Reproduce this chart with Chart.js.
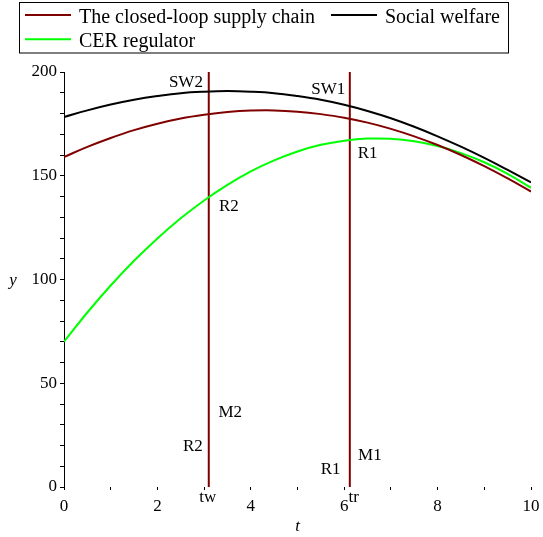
<!DOCTYPE html>
<html>
<head>
<meta charset="utf-8">
<script src="https://cdn.jsdelivr.net/npm/chart.js@4.4.1/dist/chart.umd.min.js"></script>
<style>
  html, body { margin: 0; padding: 0; background: #ffffff; }
  #wrap { width: 543px; height: 537px; position: relative; }
</style>
</head>
<body>
<div id="wrap"><canvas id="c" width="543" height="537"></canvas></div>
<script>
// Sample times t
const tValues = [0, 0.5, 1, 1.5, 2, 2.5, 3, 3.5, 4, 4.5, 5, 5.5, 6, 6.5, 7, 7.5, 8, 8.5, 9, 9.5, 10];

// The closed-loop supply chain
const supplyChain = [159.0, 163.9, 168.2, 172.0, 175.1, 177.6, 179.4, 180.7, 181.4, 181.5, 180.9,
                     179.7, 178.0, 175.6, 172.6, 169.0, 164.8, 160.0, 154.6, 148.7, 142.4];
// Social welfare
const socialWelfare = [178.3, 181.5, 184.3, 186.6, 188.4, 189.8, 190.5, 190.8, 190.5, 189.8, 188.4,
                       186.6, 184.2, 181.2, 177.7, 173.6, 169.0, 164.0, 158.6, 152.8, 146.8];
// CER regulator
const cerRegulator = [70.0, 84.1, 97.1, 109.0, 119.8, 129.5, 138.1, 145.6, 152.1, 157.4, 161.7,
                      164.9, 166.9, 167.9, 167.8, 166.6, 164.3, 160.9, 156.5, 150.9, 144.2];

// Switching times
const tw = 3.1;
const tr = 6.12;

// Axis tick labels
const xTickLabels = [0, 2, 4, 6, 8, 10];
const yTickLabels = [0, 50, 100, 150, 200];

// Legend entries
const legendNames = ["The closed-loop supply chain", "Social welfare", "CER regulator"];

// Point labels on the plot (t, y)
const pointLabels = [
  { text: "SW2", t: 2.61, y: 194.9 },
  { text: "SW1", t: 5.66, y: 191.6 },
  { text: "R1",  t: 6.50, y: 160.7 },
  { text: "R2",  t: 3.53, y: 135.1 },
  { text: "M2",  t: 3.56, y: 35.7 },
  { text: "R2",  t: 2.76, y: 19.4 },
  { text: "M1",  t: 6.55, y: 15.4 },
  { text: "R1",  t: 5.71, y: 8.3 }
];

const SERIF = "'Liberation Serif', 'Times New Roman', serif";
const MAROON = '#800000';
const GREEN = '#00ff00';

const toPoints = (ys) => tValues.map((t, i) => ({ x: t, y: ys[i] }));

const overlay = {
  id: 'overlay',
  afterDraw(chart) {
    const ctx = chart.ctx;
    const xs = chart.scales.x, ys = chart.scales.y;
    const area = chart.chartArea;
    ctx.save();

    // Legend box
    ctx.strokeStyle = '#000';
    ctx.lineWidth = 1;
    ctx.strokeRect(19.5, 2.5, 489, 50.5);
    ctx.font = '20px ' + SERIF;
    ctx.textBaseline = 'alphabetic';
    ctx.textAlign = 'left';
    const entries = [
      { color: MAROON, x: 25, y: 15, name: legendNames[0] },
      { color: '#000', x: 331, y: 15, name: legendNames[1] },
      { color: GREEN, x: 25, y: 39.3, name: legendNames[2] }
    ];
    entries.forEach(e => {
      ctx.strokeStyle = e.color;
      ctx.lineWidth = 2;
      ctx.beginPath();
      ctx.moveTo(e.x, e.y);
      ctx.lineTo(e.x + 46, e.y);
      ctx.stroke();
      ctx.fillStyle = '#000';
      ctx.fillText(e.name, e.x + 54, e.y + 7.6);
    });

    // Labels on the plot
    ctx.font = '17px ' + SERIF;
    ctx.textBaseline = 'middle';
    ctx.textAlign = 'center';
    ctx.fillStyle = '#000';
    pointLabels.forEach(p => {
      ctx.fillText(p.text, xs.getPixelForValue(p.t), ys.getPixelForValue(p.y));
    });

    // Switching time labels under the axis
    ctx.fillText('tw', xs.getPixelForValue(tw) - 1, area.bottom + 11);
    ctx.fillText('tr', xs.getPixelForValue(tr) + 4, area.bottom + 11);

    // Axis titles
    ctx.font = 'italic 17px ' + SERIF;
    ctx.fillText('y', 13, ys.getPixelForValue(100) + 1);
    ctx.fillText('t', (area.left + area.right) / 2, 527);

    ctx.restore();
  }
};

new Chart(document.getElementById('c'), {
  type: 'line',
  data: {
    datasets: [
      { label: legendNames[0], data: toPoints(supplyChain), borderColor: MAROON, borderWidth: 2, tension: 0.4 },
      { label: legendNames[1], data: toPoints(socialWelfare), borderColor: '#000', borderWidth: 2, tension: 0.4 },
      { label: legendNames[2], data: toPoints(cerRegulator), borderColor: GREEN, borderWidth: 2, tension: 0.4 },
      { label: 'tw', data: [{ x: tw, y: 0 }, { x: tw, y: 200 }], borderColor: MAROON, borderWidth: 2 },
      { label: 'tr', data: [{ x: tr, y: 0 }, { x: tr, y: 200 }], borderColor: MAROON, borderWidth: 2 }
    ]
  },
  options: {
    responsive: false,
    animation: false,
    devicePixelRatio: 1,
    layout: { padding: { top: 72, right: 12, left: 0, bottom: 0 } },
    elements: { point: { radius: 0 } },
    plugins: { legend: { display: false }, tooltip: { enabled: false } },
    scales: {
      x: {
        type: 'linear',
        min: 0, max: 10,
        afterFit(s) { s.height = 50; s.paddingLeft = 0; s.paddingRight = 0; },
        border: { display: false },
        grid: { drawOnChartArea: false, drawTicks: true, tickLength: 3, color: '#000' },
        ticks: {
          stepSize: 1,
          autoSkip: false,
          maxRotation: 0,
          padding: 6,
          color: '#000',
          font: { family: SERIF, size: 17 },
          callback: (v) => xTickLabels.includes(v) ? String(v) : ''
        }
      },
      y: {
        type: 'linear',
        min: 0, max: 200,
        afterFit(s) { s.width = 64; },
        border: { display: true, color: '#000', width: 1 },
        grid: { drawOnChartArea: false, drawTicks: true, tickLength: 4, color: '#000' },
        ticks: {
          stepSize: 10,
          autoSkip: false,
          padding: 3,
          color: '#000',
          font: { family: SERIF, size: 17 },
          callback: (v) => yTickLabels.includes(v) ? String(v) : ''
        }
      }
    }
  },
  plugins: [overlay]
});
</script>
</body>
</html>
